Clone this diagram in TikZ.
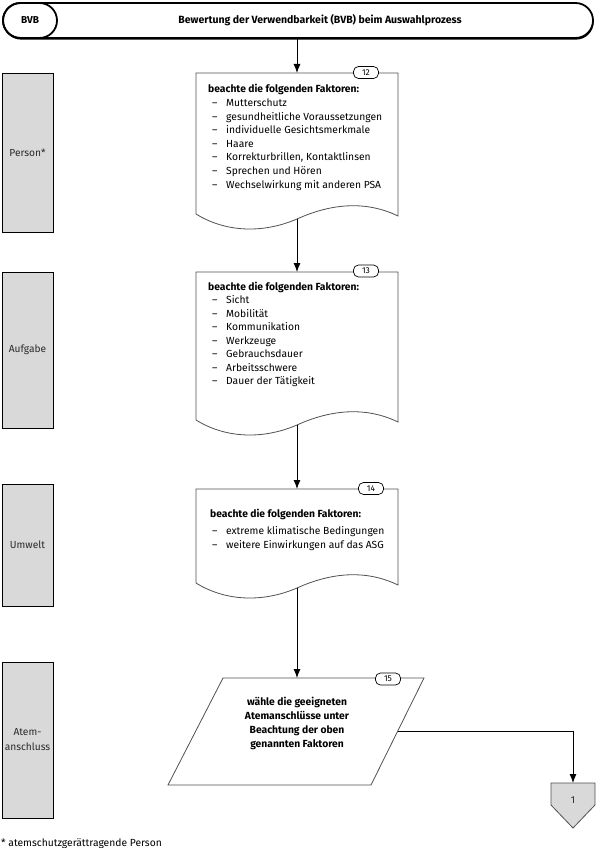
\documentclass[tikz,border=0pt]{standalone}
\usepackage{fontspec}
\setmainfont{Fira Sans}
\usetikzlibrary{arrows.meta}
\definecolor{lanegray}{HTML}{D9D9D9}
\definecolor{boxline}{HTML}{505050}
\definecolor{lanetxt}{HTML}{2A2A2A}
\tikzset{
  lane/.style={draw=black, line width=0.8pt, fill=lanegray, minimum width=51pt,
    inner sep=0pt, align=center, text=lanetxt, font=\fontsize{10.2}{15}\selectfont},
  docbox/.style={draw=boxline, line width=0.8pt},
  badge/.style={draw=black, fill=white, line width=0.7pt, rounded corners=5pt,
    minimum width=25pt, minimum height=12pt, inner sep=0pt, font=\fontsize{8.5}{8.5}\selectfont},
  flow/.style={-{Latex[length=9pt,width=7pt]}, line width=0.9pt},
  item/.style={anchor=base west, inner sep=0pt, font=\fontsize{10.3}{12}\selectfont},
  head/.style={anchor=base west, inner sep=0pt, font=\bfseries\fontsize{10.3}{12}\selectfont},
  ptext/.style={anchor=base, inner sep=0pt, font=\bfseries\fontsize{10.3}{12}\selectfont},
}
\newcommand{\dashitem}[1]{\makebox[14pt][l]{–}#1}
\begin{document}
\begin{tikzpicture}[x=1pt,y=-1pt]
\useasboundingbox (0,0) rectangle (596,848);

% header
\fill[black, rounded corners=17.5pt] (3.6,4.6) rectangle (593.6,39.6);
\node[draw, fill=white, line width=1.8pt, rounded corners=17.5pt, minimum width=590pt,
  minimum height=35pt, inner sep=0pt] (hdr) at (298,20.5) {};
\node[draw, line width=1.8pt, rounded corners=17.5pt, minimum width=54pt,
  minimum height=35pt, inner sep=0pt, font=\bfseries\fontsize{10}{11}\selectfont] (bvb) at (30,20.5) {BVB};
\node[anchor=base, inner sep=0pt, font=\bfseries\fontsize{10.5}{11}\selectfont] (title) at (320,24)
  {Bewertung der Verwendbarkeit (BVB) beim Auswahlprozess};

% lanes
\node[lane, minimum height=159pt] (laneP) at (27.5,152.5) {Person*};
\node[lane, minimum height=156pt] (laneA) at (27.5,350) {Aufgabe};
\node[lane, minimum height=122pt] (laneU) at (27.5,545) {Umwelt};
\node[lane, minimum height=156pt] (laneR) at (27.5,740) {Atem-\\anschluss};

% box 1 (document)
\coordinate (b1in) at (297,73);
\coordinate (b1out) at (297,219);
\draw[docbox] (196,214) -- (196,73) -- (398,73) -- (398,216)
  .. controls (365,200) and (330,204) .. (b1out)
  .. controls (262,234) and (225,232) .. (196,214);
\node[badge] (n12) at (366,72.5) {12};
\node[head] (h1) at (208,92.5) {beachte die folgenden Faktoren:};
\foreach \t [count=\i from 0] in {Mutterschutz, gesundheitliche Voraussetzungen,
  individuelle Gesichtsmerkmale, Haare, {Korrekturbrillen, Kontaktlinsen},
  Sprechen und Hören, Wechselwirkung mit anderen PSA}
  \node[item] (b1i\i) at (212,106.5+13.6*\i) {\dashitem{\t}};

% box 2 (document)
\coordinate (b2in) at (297,272);
\coordinate (b2out) at (297,425);
\draw[docbox] (196,420) -- (196,272) -- (398,272) -- (398,422)
  .. controls (365,406) and (330,410) .. (b2out)
  .. controls (262,440) and (225,438) .. (196,420);
\node[badge] (n13) at (366,271) {13};
\node[head] (h2) at (208,290.5) {beachte die folgenden Faktoren:};
\foreach \t [count=\i from 0] in {Sicht, Mobilität, Kommunikation, Werkzeuge,
  Gebrauchsdauer, Arbeitsschwere, Dauer der Tätigkeit}
  \node[item] (b2i\i) at (212,303.5+13.5*\i) {\dashitem{\t}};

% box 3 (document)
\coordinate (b3in) at (297,489);
\coordinate (b3out) at (297,588);
\draw[docbox] (196,583) -- (196,489) -- (398,489) -- (398,585)
  .. controls (365,569) and (330,573) .. (b3out)
  .. controls (262,603) and (225,601) .. (196,583);
\node[badge] (n14) at (371,488.5) {14};
\node[head] (h3) at (210,517.5) {beachte die folgenden Faktoren:};
\node[item] (b3i0) at (212,534.5) {\dashitem{extreme klimatische Bedingungen}};
\node[item] (b3i1) at (212,548.5) {\dashitem{weitere Einwirkungen auf das ASG}};

% box 4 (parallelogram)
\coordinate (p4in) at (297,678);
\coordinate (p4out) at (397.7,731);
\draw[docbox] (223,678) -- (424,678) -- (371,785) -- (168,785) -- cycle;
\node[badge] (n15) at (388,679) {15};
\node[ptext] (p1) at (297,705.5) {wähle die geeigneten};
\node[ptext] (p2) at (297,719.5) {Atemanschlüsse unter};
\node[ptext] (p3) at (297,733.5) {Beachtung der oben};
\node[ptext] (p4) at (297,747.5) {genannten Faktoren};

% off-page connector
\coordinate (c1in) at (573,783);
\draw[draw=boxline, line width=0.8pt, fill=lanegray] (551,783) -- (595,783) -- (595,805)
  -- (573,828) -- (551,805) -- cycle;
\node[inner sep=0pt, text=lanetxt, font=\fontsize{10}{11}\selectfont] (c1) at (573,800) {1};

% connectors
\draw[flow] (hdr.south -| b1in) -- (b1in);
\draw[flow] (b1out) -- (b2in);
\draw[flow] (b2out) -- (b3in);
\draw[flow] (b3out) -- (p4in);
\draw[flow] (p4out) -| (c1in);

% footnote
\node[anchor=base west, inner sep=0pt, font=\fontsize{10.3}{11}\selectfont] (fn) at (1,846)
  {* atemschutzgerättragende Person};
\end{tikzpicture}
\end{document}
